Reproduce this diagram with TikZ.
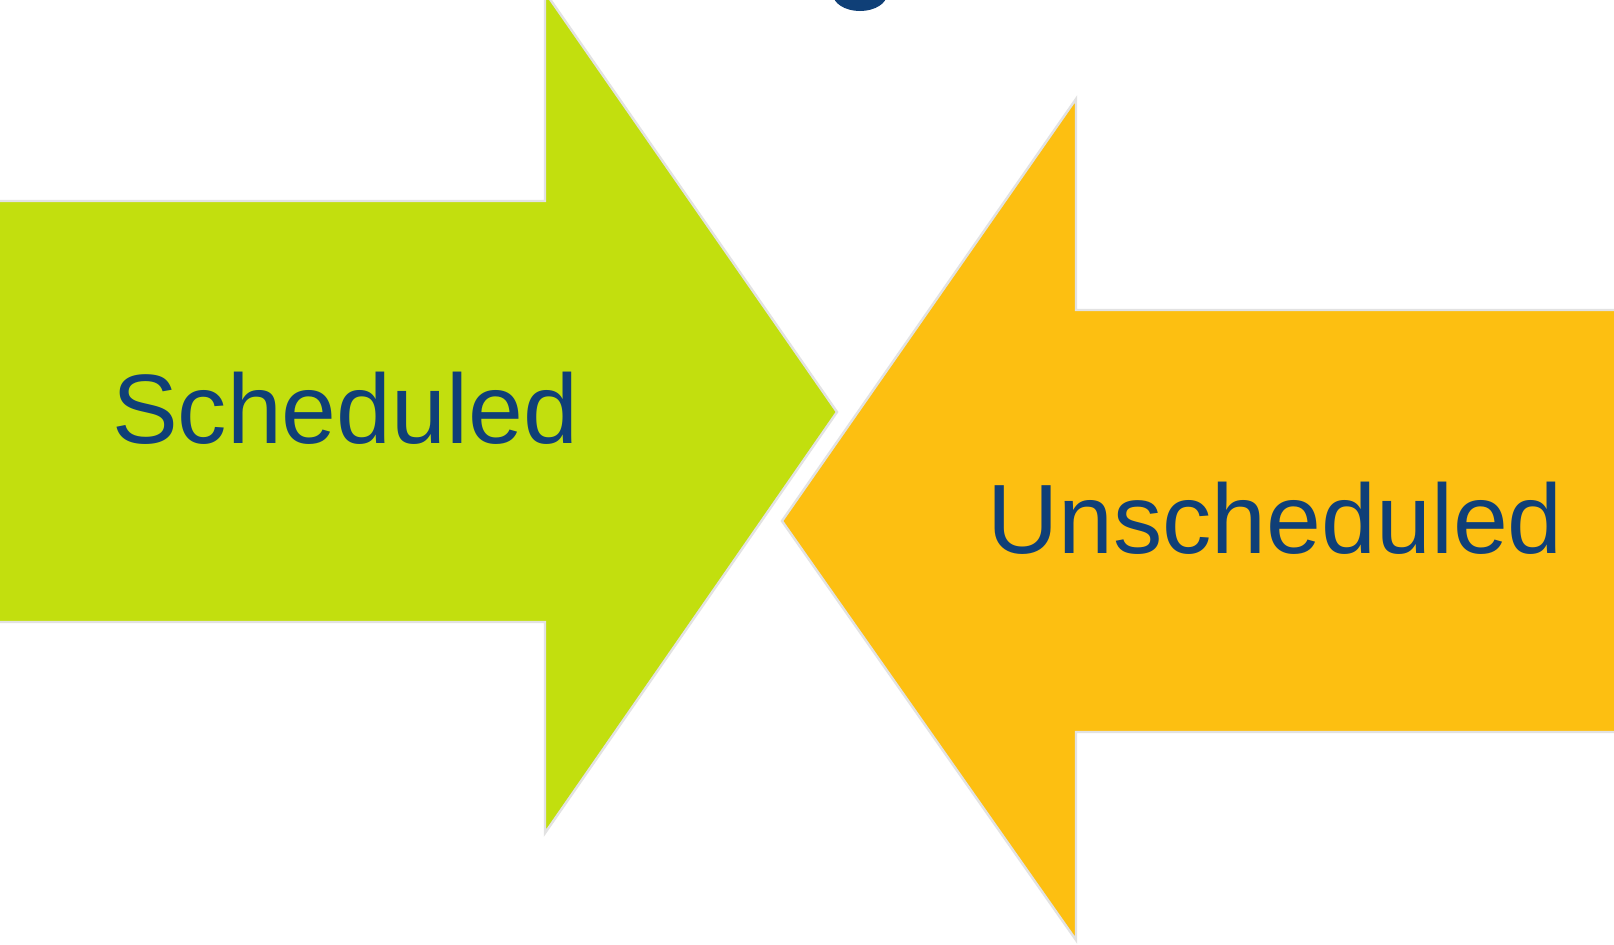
\documentclass[tikz,border=0pt]{standalone}
\usepackage{fontspec}
\setmainfont{Liberation Sans}
\definecolor{limegreen}{HTML}{C2DF0E}
\definecolor{ambergold}{HTML}{FDBF11}
\definecolor{navytext}{HTML}{0F3F77}
\definecolor{rimgray}{HTML}{E2E2E2}
\begin{document}
\begin{tikzpicture}[
    x=0.5pt, y=-0.5pt,
    bigarrow/.style={draw=rimgray, line width=1.2pt, line join=miter},
    lbl/.style={inner sep=0pt, anchor=base, text=navytext, font=\fontsize{49.3pt}{59pt}\selectfont}
]
\useasboundingbox (0,0) rectangle (1614,944);

% Arrows
\fill[white] (0,0) rectangle (1614,944);
\draw[bigarrow, fill=limegreen] (-10,201) -- (545,201) -- (545,-8) -- (837,412) -- (545,833) -- (545,622) -- (-10,622) -- cycle;
\draw[bigarrow, fill=ambergold] (1625,310) -- (1076,310) -- (1076,99) -- (782,521) -- (1076,940) -- (1076,732) -- (1625,732) -- cycle;

% Blob at top edge
\fill[navytext] (860,-6) ellipse [x radius=27, y radius=17];

% Labels
\node[lbl] (sched)   at (345,443)  {Scheduled};
\node[lbl] (unsched) at (1275,553) {Unscheduled};

\end{tikzpicture}
\end{document}
